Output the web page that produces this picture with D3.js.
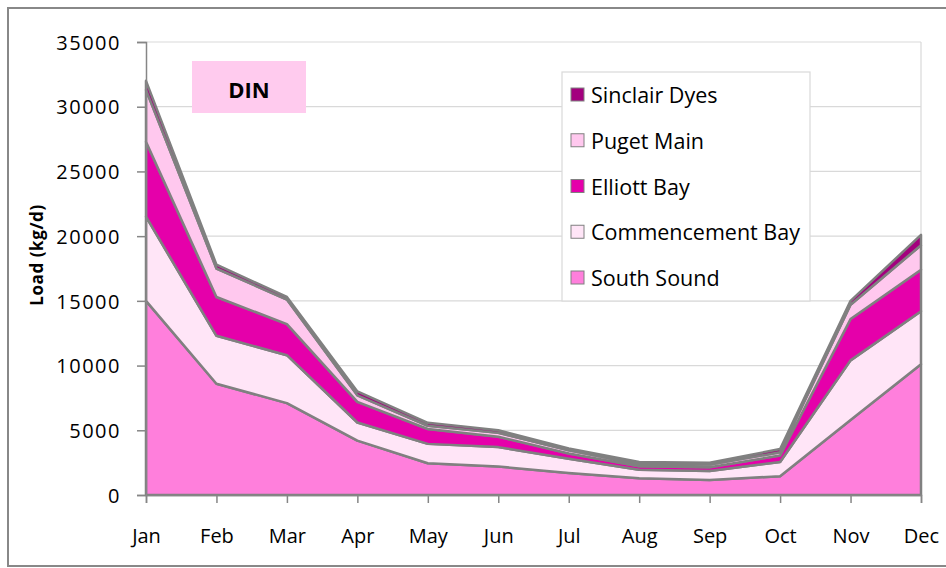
<!DOCTYPE html>
<html>
<head>
<meta charset="utf-8">
<script src="https://cdn.jsdelivr.net/npm/d3@7/dist/d3.min.js"></script>
<style>
  html, body { margin: 0; padding: 0; background: #fff; }
  svg { display: block; }
  text { font-family: "Open Sans", "Noto Sans", sans-serif; fill: #000; }
</style>
</head>
<body>
<svg id="chart" width="946" height="568"></svg>
<script>
// ---- data ----
const months = ["Jan","Feb","Mar","Apr","May","Jun","Jul","Aug","Sep","Oct","Nov","Dec"];
const southSound       = [15000, 8600, 7100, 4200, 2450, 2200, 1700, 1300, 1150, 1450, 5800, 10100];
const commencementBay  = [6500, 3700, 3700, 1400, 1500, 1500, 1100, 650, 700, 1100, 4600, 4100];
const elliottBay       = [5800, 3000, 2400, 1600, 1150, 800, 400, 270, 300, 500, 3200, 3200];
const pugetMain        = [4000, 2200, 1900, 500, 250, 300, 250, 180, 200, 250, 1100, 1900];
const sinclairDyes     = [700, 300, 200, 300, 230, 200, 150, 150, 150, 250, 300, 800];
const seriesNames = ["South Sound","Commencement Bay","Elliott Bay","Puget Main","Sinclair Dyes"];
const seriesValues = [southSound, commencementBay, elliottBay, pugetMain, sinclairDyes];
const seriesColors = ["#FF7FDC","#FFE5F7","#E500AA","#FFC8EE","#A3007E"];
const yTicks = [0, 5000, 10000, 15000, 20000, 25000, 30000, 35000];
const chartTitle = "DIN";
const yTitle = "Load (kg/d)";

// ---- layout ----
const svg = d3.select("#chart");
const pLeft = 146, pRight = 921, pTop = 42, pBottom = 495;

const rows = months.map((m, i) => {
  const r = { month: m };
  seriesNames.forEach((n, k) => r[n] = seriesValues[k][i]);
  return r;
});

const x = d3.scalePoint().domain(months).range([pLeft, pRight]);
const y = d3.scaleLinear().domain([0, 35000]).range([pBottom, pTop]);

// outer border (right edge lies beyond the picture)
svg.append("rect").attr("x", 8).attr("y", 8).attr("width", 950).attr("height", 558)
  .attr("fill", "#fff").attr("stroke", "#888").attr("stroke-width", 2);

// gridlines
svg.append("g").selectAll("line").data(yTicks.filter(d => d > 0)).join("line")
  .attr("x1", pLeft).attr("x2", pRight)
  .attr("y1", d => y(d)).attr("y2", d => y(d))
  .attr("stroke", "#D9D9D9").attr("stroke-width", 1.2);
// right plot border
svg.append("line").attr("x1", pRight).attr("x2", pRight).attr("y1", pTop).attr("y2", pBottom)
  .attr("stroke", "#D9D9D9").attr("stroke-width", 1.2);

// stacked areas
const stack = d3.stack().keys(seriesNames);
const layers = stack(rows);
const area = d3.area()
  .x(d => x(d.data.month))
  .y0(d => y(d[0]))
  .y1(d => y(d[1]));

svg.append("g").selectAll("path").data(layers).join("path")
  .attr("d", area)
  .attr("fill", (d, i) => seriesColors[i])
  .attr("stroke", "#808080")
  .attr("stroke-width", 2.5)
  .attr("stroke-linejoin", "round");

// axes
const yAxis = d3.axisLeft(y).tickValues(yTicks).tickSize(9).tickPadding(16).tickFormat(d3.format("d"));
const gy = svg.append("g").attr("transform", `translate(${pLeft},0)`).call(yAxis);
gy.select(".domain").attr("stroke", "#868686").attr("stroke-width", 1.5);
gy.selectAll(".tick line").attr("stroke", "#868686").attr("stroke-width", 1.5);
gy.selectAll(".tick text").attr("font-size", 20).attr("letter-spacing", "1.5px")
  .attr("font-family", "Open Sans").attr("fill", "#111").attr("dy", "0.36em");

const xAxis = d3.axisBottom(x).tickSize(8).tickPadding(26);
const gx = svg.append("g").attr("transform", `translate(0,${pBottom})`).call(xAxis);
gx.select(".domain").attr("stroke", "#868686").attr("stroke-width", 1.5);
gx.selectAll(".tick line").attr("stroke", "#868686").attr("stroke-width", 1.5);
gx.selectAll(".tick text").attr("font-size", 20).attr("font-family", "Open Sans").attr("fill", "#111");

// y title
svg.append("text")
  .attr("transform", "translate(43,255) rotate(-90)")
  .attr("text-anchor", "middle")
  .attr("font-size", 17).attr("font-weight", "bold").attr("letter-spacing", "0.6px")
  .text(yTitle);

// DIN label box
svg.append("rect").attr("x", 192).attr("y", 61).attr("width", 114).attr("height", 52)
  .attr("fill", "#FFCBEE");
svg.append("text").attr("x", 249).attr("y", 98).attr("text-anchor", "middle")
  .attr("font-size", 22).attr("font-weight", "bold").text(chartTitle);

// legend
const lg = svg.append("g");
lg.append("rect").attr("x", 562).attr("y", 72).attr("width", 248).attr("height", 229)
  .attr("fill", "#fff").attr("stroke", "#D9D9D9").attr("stroke-width", 1.2);
const legendOrder = seriesNames.map((n, i) => i).reverse();
legendOrder.forEach((si, j) => {
  const by = 103 + j * 45.75;
  lg.append("rect").attr("x", 571).attr("y", by - 15).attr("width", 13).attr("height", 13)
    .attr("fill", seriesColors[si]).attr("stroke", "#808080").attr("stroke-width", 1);
  lg.append("text").attr("x", 591).attr("y", by).attr("font-size", 21.5).attr("fill", "#111")
    .text(seriesNames[si]);
});
</script>
</body>
</html>
